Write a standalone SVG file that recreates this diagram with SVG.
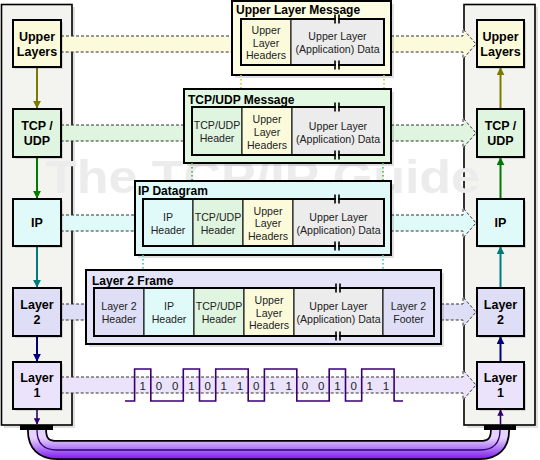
<svg xmlns="http://www.w3.org/2000/svg" width="540" height="460" viewBox="0 0 540 460">
<defs>
<style>
.panel{fill:#f3f3ef;stroke:#000;stroke-width:1.6}
.shadow{fill:#000;opacity:0.12}
.node{stroke:#000;stroke-width:2}
.nt{font-family:"Liberation Sans",Arial,sans-serif;font-weight:bold;font-size:12.5px;fill:#000;text-anchor:middle}
.title{font-family:"Liberation Sans",Arial,sans-serif;font-weight:bold;font-size:12px;fill:#000}
.ct{font-family:"Liberation Sans",Arial,sans-serif;font-size:10.6px;fill:#222;text-anchor:middle}
.bit{font-family:"Liberation Sans",Arial,sans-serif;font-size:11.5px;fill:#222;text-anchor:middle}
.outer{stroke:#000;stroke-width:2}
.inner{fill:none;stroke:#000;stroke-width:2}
.cell{stroke:#000;stroke-width:1}
.dash{fill:none;stroke:#333;stroke-width:1;stroke-dasharray:3,2}
.dot{fill:none;stroke-width:1.6;stroke-dasharray:1.5,2.5}
.brk{stroke:#000;stroke-width:1.6}
.y{fill:#fbfbdc}.g{fill:#e0f5e0}.c{fill:#e0fafa}.l{fill:#dedef6}.p{fill:#ebe3fb}.d{fill:#ececec}
</style>
<marker id="aO" viewBox="0 0 10 10" refX="9" refY="5" markerWidth="4" markerHeight="4" orient="auto"><path d="M0,0L10,5L0,10Z" fill="#7a7a00"/></marker>
<marker id="aG" viewBox="0 0 10 10" refX="9" refY="5" markerWidth="4" markerHeight="4" orient="auto"><path d="M0,0L10,5L0,10Z" fill="#007a00"/></marker>
<marker id="aT" viewBox="0 0 10 10" refX="9" refY="5" markerWidth="4" markerHeight="4" orient="auto"><path d="M0,0L10,5L0,10Z" fill="#007a7a"/></marker>
<marker id="aN" viewBox="0 0 10 10" refX="9" refY="5" markerWidth="4" markerHeight="4" orient="auto"><path d="M0,0L10,5L0,10Z" fill="#000080"/></marker>
<marker id="aP" viewBox="0 0 10 10" refX="9" refY="5" markerWidth="4" markerHeight="4" orient="auto"><path d="M0,0L10,5L0,10Z" fill="#300070"/></marker>
<linearGradient id="cable" gradientUnits="userSpaceOnUse" x1="0" y1="438" x2="0" y2="460">
<stop offset="0" stop-color="#e6d2ff"/><stop offset="0.45" stop-color="#b27cf6"/><stop offset="1" stop-color="#7a10ee"/>
</linearGradient>
</defs>
<rect width="540" height="460" fill="#fff"/>

<!-- stack panels -->
<g id="left-stack">
<rect class="shadow" x="4" y="7" width="71" height="421"/>
<rect class="panel" x="1.5" y="4.5" width="70.5" height="420.5"/>
</g>
<g id="right-stack">
<rect class="shadow" x="467" y="7" width="71" height="421"/>
<rect class="panel" x="464" y="4.5" width="71" height="420.5"/>
</g>

<!-- cable -->
<g id="cable">
<rect x="20" y="425" width="33" height="5" fill="#000"/>
<rect x="484" y="425" width="32" height="5" fill="#000"/>
<path d="M37,430 Q37,450 57,450 L480,450 Q500,450 500,430" fill="none" stroke="#000" stroke-width="20"/>
<path d="M37,430 Q37,450 57,450 L480,450 Q500,450 500,430" fill="none" stroke="url(#cable)" stroke-width="16.5"/>
<path d="M37,430 Q37,450 57,450 L480,450 Q500,450 500,430" fill="none" stroke="#300070" stroke-width="1.3"/>
</g>

<!-- watermark -->
<text x="45" y="193" font-family="'Liberation Sans',Arial,sans-serif" font-weight="bold" font-size="46" fill="#ececec" textLength="435" lengthAdjust="spacingAndGlyphs">The TCP/IP Guide</text>

<!-- bands -->
<g id="connectors">
<path class="y" d="M61,36H463V29L476,44L463,59V52H61Z"/>
<path class="dash" d="M61,36H463V29L476,44L463,59V52H61"/>
<path class="g" d="M61,125H463V118L476,133L463,148V141H61Z"/>
<path class="dash" d="M61,125H463V118L476,133L463,148V141H61"/>
<path class="c" d="M61,215H463V208L476,223L463,238V231H61Z"/>
<path class="dash" d="M61,215H463V208L476,223L463,238V231H61"/>
<path class="l" d="M61,304H463V297L476,312L463,327V320H61Z"/>
<path class="dash" d="M61,304H463V297L476,312L463,327V320H61"/>
<path class="p" d="M61,377H463V370L476,385L463,400V393H61Z"/>
<path class="dash" d="M61,377H463V370L476,385L463,400V393H61"/>

<!-- vertical stack arrows -->
<line x1="37" y1="67" x2="37" y2="108" stroke="#7a7a00" stroke-width="2" marker-end="url(#aO)"/>
<line x1="37" y1="157" x2="37" y2="198" stroke="#007a00" stroke-width="2" marker-end="url(#aG)"/>
<line x1="37" y1="246" x2="37" y2="287" stroke="#007a7a" stroke-width="2" marker-end="url(#aT)"/>
<line x1="37" y1="336" x2="37" y2="361" stroke="#000080" stroke-width="2" marker-end="url(#aN)"/>
<line x1="37" y1="409" x2="37" y2="424" stroke="#300070" stroke-width="1.6" marker-end="url(#aP)"/>
<line x1="500.5" y1="109" x2="500.5" y2="68" stroke="#7a7a00" stroke-width="2" marker-end="url(#aO)"/>
<line x1="500.5" y1="199" x2="500.5" y2="158" stroke="#007a00" stroke-width="2" marker-end="url(#aG)"/>
<line x1="500.5" y1="288" x2="500.5" y2="247" stroke="#007a7a" stroke-width="2" marker-end="url(#aT)"/>
<line x1="500.5" y1="362" x2="500.5" y2="337" stroke="#000080" stroke-width="2" marker-end="url(#aN)"/>
<line x1="500.5" y1="425" x2="500.5" y2="410" stroke="#300070" stroke-width="1.6" marker-end="url(#aP)"/>
</g>

<!-- nodes left -->
<g id="L-upper"><rect class="shadow" x="15" y="22" width="48" height="47"/><rect class="node y" x="13" y="20" width="48" height="47"/><text class="nt" x="37" y="41">Upper</text><text class="nt" x="37" y="56">Layers</text></g>
<g id="L-tcp"><rect class="shadow" x="15" y="111" width="48" height="48"/><rect class="node g" x="13" y="109" width="48" height="48"/><text class="nt" x="37" y="130">TCP /</text><text class="nt" x="37" y="145">UDP</text></g>
<g id="L-ip"><rect class="shadow" x="15" y="201" width="48" height="47"/><rect class="node c" x="13" y="199" width="48" height="47"/><text class="nt" x="37" y="227">IP</text></g>
<g id="L-l2"><rect class="shadow" x="15" y="290" width="48" height="48"/><rect class="node l" x="13" y="288" width="48" height="48"/><text class="nt" x="37" y="309">Layer</text><text class="nt" x="37" y="324">2</text></g>
<g id="L-l1"><rect class="shadow" x="15" y="364" width="48" height="47"/><rect class="node p" x="13" y="362" width="48" height="47"/><text class="nt" x="37" y="382">Layer</text><text class="nt" x="37" y="397">1</text></g>

<!-- nodes right -->
<g id="R-upper"><rect class="shadow" x="479" y="22" width="47" height="47"/><rect class="node y" x="477" y="20" width="47" height="47"/><text class="nt" x="500.5" y="41">Upper</text><text class="nt" x="500.5" y="56">Layers</text></g>
<g id="R-tcp"><rect class="shadow" x="479" y="111" width="47" height="48"/><rect class="node g" x="477" y="109" width="47" height="48"/><text class="nt" x="500.5" y="130">TCP /</text><text class="nt" x="500.5" y="145">UDP</text></g>
<g id="R-ip"><rect class="shadow" x="479" y="201" width="47" height="47"/><rect class="node c" x="477" y="199" width="47" height="47"/><text class="nt" x="500.5" y="227">IP</text></g>
<g id="R-l2"><rect class="shadow" x="479" y="290" width="47" height="48"/><rect class="node l" x="477" y="288" width="47" height="48"/><text class="nt" x="500.5" y="309">Layer</text><text class="nt" x="500.5" y="324">2</text></g>
<g id="R-l1"><rect class="shadow" x="479" y="364" width="47" height="47"/><rect class="node p" x="477" y="362" width="47" height="47"/><text class="nt" x="500.5" y="382">Layer</text><text class="nt" x="500.5" y="397">1</text></g>

<!-- Upper Layer Message -->
<g id="upper-layer-message">
<rect class="shadow" x="235" y="4" width="159" height="74"/>
<rect class="outer" x="232" y="1" width="159" height="74" fill="#fdfde4"/>
<text class="title" x="236" y="14">Upper Layer Message</text>
<rect class="cell y" x="241" y="19" width="50" height="46"/>
<rect class="cell d" x="291" y="19" width="93" height="46"/>
<rect class="inner" x="241" y="19" width="143" height="46"/>
<text class="ct" x="266" y="34">Upper</text><text class="ct" x="266" y="46.5">Layer</text><text class="ct" x="266" y="59">Headers</text>
<text class="ct" x="337.5" y="40">Upper Layer</text><text class="ct" x="337.5" y="53">(Application) Data</text>
<rect x="336" y="17" width="2" height="4" fill="#fdfde4"/><rect x="336" y="63" width="2" height="4" fill="#fdfde4"/>
<path class="brk" d="M335,14.5V23.5M339,14.5V23.5M335,60.5V69.5M339,60.5V69.5"/>
</g>
<path class="dot" stroke="#c8c840" d="M241,75V107M384,75V107"/>

<!-- TCP/UDP Message -->
<g id="tcp-udp-message">
<rect class="shadow" x="187" y="92" width="207" height="74"/>
<rect class="outer" x="184" y="89" width="207" height="74" fill="#e3f8e3"/>
<text class="title" x="188" y="103.5">TCP/UDP Message</text>
<rect class="cell g" x="192" y="107" width="50" height="48"/>
<rect class="cell y" x="242" y="107" width="50" height="48"/>
<rect class="cell d" x="292" y="107" width="92" height="48"/>
<rect class="inner" x="192" y="107" width="192" height="48"/>
<text class="ct" x="217" y="129">TCP/UDP</text><text class="ct" x="217" y="142">Header</text>
<text class="ct" x="267" y="123">Upper</text><text class="ct" x="267" y="136">Layer</text><text class="ct" x="267" y="149">Headers</text>
<text class="ct" x="338" y="130">Upper Layer</text><text class="ct" x="338" y="142.5">(Application) Data</text>
<rect x="336" y="105" width="2" height="4" fill="#e3f8e3"/><rect x="336" y="153" width="2" height="4" fill="#e3f8e3"/>
<path class="brk" d="M335,102.5V111.5M339,102.5V111.5M335,150.5V159.5M339,150.5V159.5"/>
</g>
<path class="dot" stroke="#40b840" d="M192,163V199M383,163V199"/>

<!-- IP Datagram -->
<g id="ip-datagram">
<rect class="shadow" x="138" y="184" width="256" height="74"/>
<rect class="outer" x="135" y="181" width="256" height="74" fill="#e0fafa"/>
<text class="title" x="138" y="195">IP Datagram</text>
<rect class="cell c" x="143" y="199" width="50" height="47"/>
<rect class="cell g" x="193" y="199" width="50" height="47"/>
<rect class="cell y" x="243" y="199" width="50" height="47"/>
<rect class="cell d" x="293" y="199" width="91" height="47"/>
<rect class="inner" x="143" y="199" width="241" height="47"/>
<text class="ct" x="168" y="220.5">IP</text><text class="ct" x="168" y="233.5">Header</text>
<text class="ct" x="218" y="220.5">TCP/UDP</text><text class="ct" x="218" y="233.5">Header</text>
<text class="ct" x="268" y="214.5">Upper</text><text class="ct" x="268" y="227">Layer</text><text class="ct" x="268" y="239.5">Headers</text>
<text class="ct" x="338.5" y="220.5">Upper Layer</text><text class="ct" x="338.5" y="233.5">(Application) Data</text>
<rect x="336" y="197" width="2" height="4" fill="#e0fafa"/><rect x="336" y="244" width="2" height="4" fill="#e0fafa"/>
<path class="brk" d="M335,194.5V203.5M339,194.5V203.5M335,241.5V250.5M339,241.5V250.5"/>
</g>
<path class="dot" stroke="#40c0c0" d="M143,255V288M383,255V288"/>

<!-- Layer 2 Frame -->
<g id="layer2-frame">
<rect class="shadow" x="89" y="273" width="355" height="74"/>
<rect class="outer" x="86" y="270" width="355" height="74" fill="#e4e4f8"/>
<text class="title" x="92" y="284.5">Layer 2 Frame</text>
<rect class="cell l" x="94" y="288" width="50" height="48"/>
<rect class="cell c" x="144" y="288" width="50" height="48"/>
<rect class="cell g" x="194" y="288" width="50" height="48"/>
<rect class="cell y" x="244" y="288" width="50" height="48"/>
<rect class="cell d" x="294" y="288" width="89" height="48"/>
<rect class="cell l" x="383" y="288" width="51" height="48"/>
<rect class="inner" x="94" y="288" width="340" height="48"/>
<text class="ct" x="119" y="310">Layer 2</text><text class="ct" x="119" y="323">Header</text>
<text class="ct" x="169" y="310">IP</text><text class="ct" x="169" y="323">Header</text>
<text class="ct" x="219" y="310">TCP/UDP</text><text class="ct" x="219" y="323">Header</text>
<text class="ct" x="269" y="304">Upper</text><text class="ct" x="269" y="316.5">Layer</text><text class="ct" x="269" y="329">Headers</text>
<text class="ct" x="338.5" y="310">Upper Layer</text><text class="ct" x="338.5" y="323">(Application) Data</text>
<text class="ct" x="408.5" y="310">Layer 2</text><text class="ct" x="408.5" y="323">Footer</text>
<rect x="337" y="286" width="2" height="4" fill="#e4e4f8"/><rect x="337" y="334" width="2" height="4" fill="#e4e4f8"/>
<path class="brk" d="M336,283.5V292.5M340,283.5V292.5M336,331.5V340.5M340,331.5V340.5"/>
</g>

<!-- bit stream -->
<g id="bitstream">
<path d="M125,401H134.6V369H150.8V401H183.3V369H199.5V401H215.7V369H248.2V401H264.4V369H296.8V401H329.2V369H345.5V401H361.7V369H394.1V401H403" fill="none" stroke="#3a0070" stroke-width="1.6"/>
<text class="bit" x="142.7" y="389.5">1</text><text class="bit" x="158.9" y="389.5">0</text><text class="bit" x="175.1" y="389.5">0</text><text class="bit" x="191.4" y="389.5">1</text>
<text class="bit" x="207.6" y="389.5">0</text><text class="bit" x="223.8" y="389.5">1</text><text class="bit" x="240.0" y="389.5">1</text><text class="bit" x="256.3" y="389.5">0</text>
<text class="bit" x="272.5" y="389.5">1</text><text class="bit" x="288.7" y="389.5">1</text><text class="bit" x="304.9" y="389.5">0</text><text class="bit" x="321.1" y="389.5">0</text>
<text class="bit" x="337.4" y="389.5">1</text><text class="bit" x="353.6" y="389.5">0</text><text class="bit" x="369.8" y="389.5">1</text><text class="bit" x="386.0" y="389.5">1</text>
</g>
</svg>
